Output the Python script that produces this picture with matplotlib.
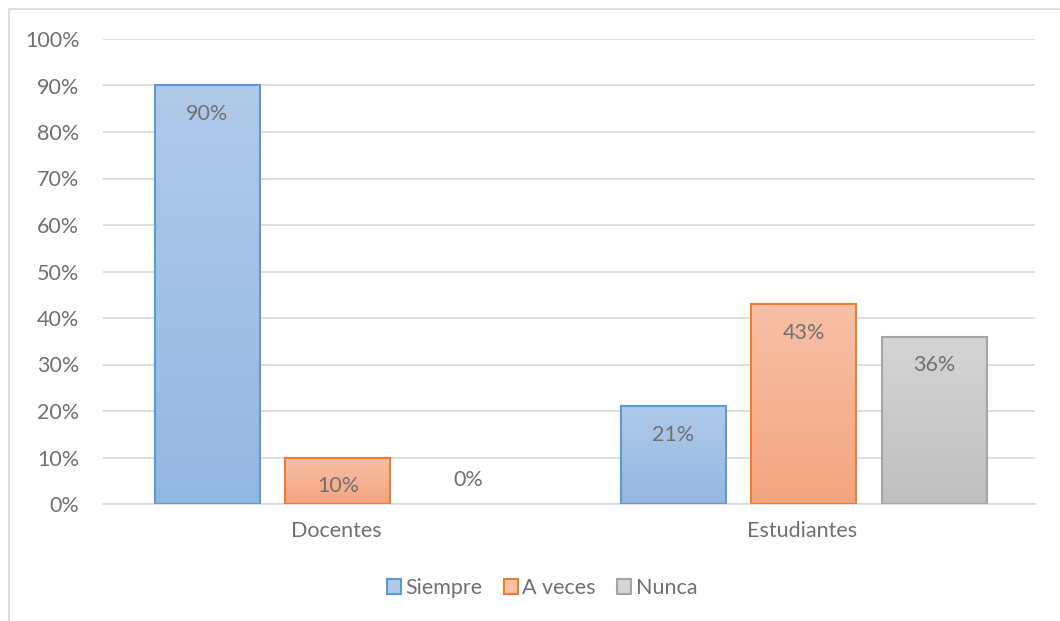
import numpy as np
import matplotlib.pyplot as plt
from matplotlib.patches import Rectangle
from matplotlib.colors import LinearSegmentedColormap

# Datos del grafico
grupos = ["Docentes", "Estudiantes"]
series = ["Siempre", "A veces", "Nunca"]
siempre = [90, 21]
a_veces = [10, 43]
nunca = [0, 36]
yticks = [0, 10, 20, 30, 40, 50, 60, 70, 80, 90, 100]

valores = [siempre, a_veces, nunca]
bordes = ["#5b9bd5", "#ed7d31", "#a5a5a5"]
degradados = [("#b0cae9", "#94b7e2"), ("#f7c0a7", "#f4a57f"), ("#d5d5d5", "#bfbfbf")]

plt.rcParams["font.family"] = ["Lato", "DejaVu Sans"]
gris = "#707070"
fs = 15.5

fig = plt.figure(figsize=(10.6, 6.21), dpi=100)
ax = fig.add_axes([103 / 1060, 1 - 504 / 621, 932 / 1060, 465 / 621])

# Borde del area del grafico (recortado a la derecha y abajo)
fig.patches.append(Rectangle((9 / 1060, -0.05), 1.2, 1 - 9 / 621 + 0.05,
                             transform=fig.transFigure, fill=False,
                             edgecolor="#d9d9d9", linewidth=1.2))

x = np.arange(len(grupos))
ancho = 0.225
paso = 0.28

for i, (vals, borde, (c_top, c_bot)) in enumerate(zip(valores, bordes, degradados)):
    cmap = LinearSegmentedColormap.from_list("g", [c_bot, c_top])
    pos = x + (i - 1) * paso + 0.004
    bars = ax.bar(pos, vals, ancho, facecolor="none", edgecolor=borde,
                  linewidth=1.5, zorder=3, label=series[i])
    for b, v in zip(bars, vals):
        cx = b.get_x() + ancho / 2
        if v > 0:
            grad = np.linspace(0, 1, 256).reshape(-1, 1)
            im = ax.imshow(grad, cmap=cmap, origin="lower", aspect="auto",
                           extent=(b.get_x(), b.get_x() + ancho, 0, v), zorder=2)
            im.set_clip_path(b)
            ax.text(cx, v - 6.2, f"{v}%", ha="center",
                    va="center", fontsize=fs, color=gris, zorder=4)
        else:
            b.set_linewidth(0)
            ax.text(cx, 5.2, f"{v}%", ha="center",
                    va="center", fontsize=fs, color=gris, zorder=4)

ax.set_xlim(-0.5, 1.5)
ax.set_ylim(0, 100)
ax.set_yticks(yticks)
ax.set_yticklabels([f"{t}%" for t in yticks])
ax.set_xticks(x)
ax.set_xticklabels(grupos)
ax.tick_params(length=0, labelsize=fs, labelcolor=gris)
ax.tick_params(axis="y", pad=17)
ax.tick_params(axis="x", pad=12)
ax.grid(axis="y", color="#d9d9d9", linewidth=1.2, zorder=0)
ax.set_axisbelow(True)
for s in ["top", "right", "left"]:
    ax.spines[s].set_visible(False)
ax.spines["bottom"].set_color("#d9d9d9")
ax.spines["bottom"].set_linewidth(1.2)

handles = [Rectangle((0, 0), 1, 1, facecolor=c[0], edgecolor=e, linewidth=1.5)
           for c, e in zip(degradados, bordes)]
fig.legend(handles, series, loc="center", bbox_to_anchor=(542 / 1060, 1 - 588 / 621),
           ncol=3, frameon=False, fontsize=fs, labelcolor=gris,
           handlelength=0.65, handleheight=0.65, handletextpad=0.2, columnspacing=1.0)

fig.savefig("out.png", dpi=100)
